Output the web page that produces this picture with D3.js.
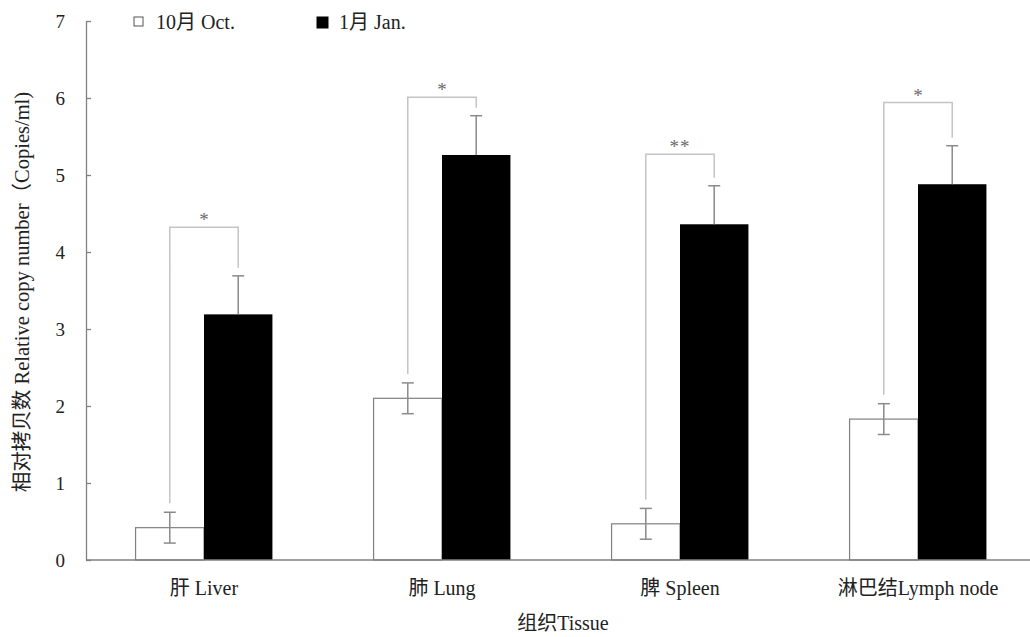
<!DOCTYPE html>
<html>
<head>
<meta charset="utf-8">
<script src="https://cdn.jsdelivr.net/npm/d3@7/dist/d3.min.js"></script>
<style>
html,body{margin:0;padding:0;background:#fff;}
text{font-family:"Liberation Serif","Times New Roman","Noto Sans CJK SC",serif;}
</style>
</head>
<body>
<svg id="chart" width="1030" height="637"></svg>
<script>
const categories = ["肝 Liver", "肺 Lung", "脾 Spleen", "淋巴结Lymph node"];
const seriesNames = ["10月 Oct.", "1月 Jan."];
const octValues = [0.42, 2.10, 0.47, 1.83];
const octErrors = [0.20, 0.20, 0.20, 0.20];
const janValues = [3.19, 5.26, 4.36, 4.88];
const janErrors = [0.50, 0.51, 0.50, 0.50];
const bracketTops = [4.32, 6.01, 5.27, 5.94];
const sigLabels = ["*", "*", "**", "*"];
const yTicks = [0, 1, 2, 3, 4, 5, 6, 7];

(function() {
const svg = d3.select("#chart");
const mLeft = 86, mRight = 1030, mTop = 21, mBottom = 560;
const font = '"Liberation Serif","Times New Roman","Noto Sans CJK SC",serif';

const y = d3.scaleLinear().domain([0, 7]).range([mBottom, mTop]);
const x0 = d3.scaleBand().domain(categories).range([85, 1037]).paddingInner(0.425).paddingOuter(0.2125);
const x1 = d3.scaleBand().domain(seriesNames).range([0, x0.bandwidth()]).padding(0);

const axisColor = "#808080";

// Y axis
const yAxis = d3.axisLeft(y).tickValues(yTicks).tickSizeInner(-5).tickSizeOuter(0).tickPadding(21).tickFormat(d3.format("d"));
const gy = svg.append("g").attr("transform", `translate(${mLeft},0)`).call(yAxis);
gy.select(".domain").attr("stroke", axisColor).attr("stroke-width", 1.3);
gy.selectAll(".tick line").attr("stroke", axisColor).attr("stroke-width", 1.3);
gy.selectAll(".tick text").attr("font-size", 19).attr("font-family", font).attr("fill", "#222");

// bars
const groups = svg.append("g").selectAll("g").data(categories).join("g")
  .attr("transform", d => `translate(${x0(d)},0)`);

groups.append("rect")
  .attr("x", x1(seriesNames[0]))
  .attr("y", (d, i) => y(octValues[i]))
  .attr("width", x1.bandwidth())
  .attr("height", (d, i) => y(0) - y(octValues[i]))
  .attr("fill", "#fff").attr("stroke", axisColor).attr("stroke-width", 1.2);

groups.append("rect")
  .attr("x", x1(seriesNames[1]))
  .attr("y", (d, i) => y(janValues[i]))
  .attr("width", x1.bandwidth())
  .attr("height", (d, i) => y(0) - y(janValues[i]))
  .attr("fill", "#000");

// X axis line
svg.append("line").attr("x1", mLeft).attr("x2", mRight).attr("y1", mBottom).attr("y2", mBottom)
  .attr("stroke", axisColor).attr("stroke-width", 1.3);

// error bars
const capW = 12;
const errColor = "#8a8a8a";
groups.each(function(d, i) {
  const g = d3.select(this);
  const cxO = x1(seriesNames[0]) + x1.bandwidth() / 2;
  const cxJ = x1(seriesNames[1]) + x1.bandwidth() / 2;
  const lo = y(octValues[i] - octErrors[i]), hi = y(octValues[i] + octErrors[i]);
  g.append("line").attr("x1", cxO).attr("x2", cxO).attr("y1", lo).attr("y2", hi).attr("stroke", errColor).attr("stroke-width", 1.5);
  g.append("line").attr("x1", cxO - capW/2).attr("x2", cxO + capW/2).attr("y1", lo).attr("y2", lo).attr("stroke", errColor).attr("stroke-width", 1.5);
  g.append("line").attr("x1", cxO - capW/2).attr("x2", cxO + capW/2).attr("y1", hi).attr("y2", hi).attr("stroke", errColor).attr("stroke-width", 1.5);
  const jt = y(janValues[i] + janErrors[i]);
  g.append("line").attr("x1", cxJ).attr("x2", cxJ).attr("y1", y(janValues[i])).attr("y2", jt).attr("stroke", errColor).attr("stroke-width", 1.5);
  g.append("line").attr("x1", cxJ - capW/2).attr("x2", cxJ + capW/2).attr("y1", jt).attr("y2", jt).attr("stroke", errColor).attr("stroke-width", 1.5);

  // bracket
  const bt = y(bracketTops[i]);
  const bColor = "#c4c4c4";
  g.append("path")
    .attr("d", `M${cxO},${hi - 9}V${bt}H${cxJ}V${jt - 8}`)
    .attr("fill", "none").attr("stroke", bColor).attr("stroke-width", 1.5);
  g.append("text").attr("x", (cxO + cxJ) / 2).attr("y", bt - 1)
    .attr("text-anchor", "middle").attr("font-size", 19).attr("fill", "#6a6a6a")
    .attr("font-family", font).attr("letter-spacing", sigLabels[i].length > 1 ? 1 : 0)
    .text(sigLabels[i]);
});

// X category labels
const xAxis = d3.axisBottom(x0).tickSize(0).tickPadding(21);
const gx = svg.append("g").attr("transform", `translate(0,${mBottom})`).call(xAxis);
gx.select(".domain").remove();
gx.selectAll(".tick text").attr("font-size", 20).attr("font-family", font).attr("fill", "#222");

// axis titles
svg.append("text").attr("x", 563).attr("y", 630).attr("text-anchor", "middle")
  .attr("font-size", 20).attr("fill", "#222").text("组织Tissue");
svg.append("text").attr("transform", "translate(29,292) rotate(-90)").attr("text-anchor", "middle")
  .attr("font-size", 20.5).attr("fill", "#222").text("相对拷贝数 Relative copy number（Copies/ml)");

// legend
const legend = svg.append("g");
const legX = [134, 317];
seriesNames.forEach((s, i) => {
  legend.append("rect").attr("x", legX[i]).attr("y", 17).attr("width", i === 0 ? 9 : 11).attr("height", i === 0 ? 9 : 11)
    .attr("fill", i === 0 ? "#fff" : "#000").attr("stroke", i === 0 ? "#555" : "#000").attr("stroke-width", 1);
  legend.append("text").attr("x", legX[i] + 22).attr("y", 29).attr("font-size", 20).attr("fill", "#222").text(s);
});
})();
</script>
</body>
</html>
